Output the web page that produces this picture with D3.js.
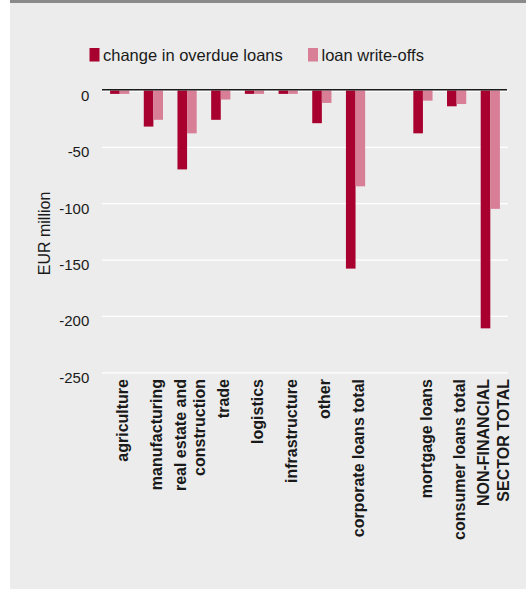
<!DOCTYPE html>
<html>
<head>
<meta charset="utf-8">
<script src="https://cdn.jsdelivr.net/npm/d3@7"></script>
<style>
  body { margin: 0; background: #fff; }
  svg { display: block; font-family: "Liberation Sans", Arial, sans-serif; }
</style>
</head>
<body>
<script>
// categories, "gap" is the empty slot between corporate and household loans
var categories = ["agriculture", "manufacturing", "real estate and\nconstruction", "trade", "logistics",
  "infrastructure", "other", "corporate loans total", "gap",
  "mortgage loans", "consumer loans total", "NON-FINANCIAL\nSECTOR TOTAL"];
var overdue   = [-3, -32, -70, -26, -3, -3, -29, -158, null, -38, -14, -211];
var writeOffs = [-3, -26, -38, -8, -3, -3, -11, -85, null, -9, -12, -105];
var seriesNames = ["change in overdue loans", "loan write-offs"];
var yTicks = [0, -50, -100, -150, -200, -250];

var colors = ["#a8002f", "#d87e96"];

const W = 526, H = 589;
const svg = d3.select("body").append("svg").attr("width", W).attr("height", H);

// panel
svg.append("rect").attr("x", 10).attr("y", 0).attr("width", W - 10).attr("height", H).attr("fill", "#ebeceb");
svg.append("rect").attr("x", 10).attr("y", 0).attr("width", W - 10).attr("height", 3).attr("fill", "#8a8a8a");

var x = d3.scaleBand()
  .domain(categories)
  .range([102, 508])
  .paddingInner(0.43)
  .paddingOuter(0.24);

var x1 = d3.scaleBand().domain([0, 1]).range([0, x.bandwidth()]);

var y = d3.scaleLinear().domain([-250, 0]).range([372.3, 90.5]);

// gridlines + tick labels
var yAxis = svg.append("g")
  .attr("transform", "translate(102,0)")
  .call(d3.axisLeft(y).tickValues(yTicks).tickSize(-406).tickPadding(12.7).tickFormat(d3.format("d")));
yAxis.select(".domain").remove();
yAxis.selectAll(".tick line").attr("stroke", "#ffffff").attr("stroke-width", 1.3);
yAxis.selectAll(".tick text")
  .attr("font-size", 15)
  .attr("font-family", "\"Liberation Sans\", Arial, sans-serif")
  .attr("fill", "#1a1a1a")
  .attr("dy", "0.66em")
  .text(function(d) { return d == 0 ? "0" : String(d); });

// bars
var rows = categories.map(function(c, i) { return {cat: c, vals: [overdue[i], writeOffs[i]]}; })
  .filter(function(d) { return d.cat != "gap"; });

var groups = svg.selectAll("g.grp")
  .data(rows)
  .enter().append("g")
  .attr("class", "grp")
  .attr("transform", function(d) { return "translate(" + x(d.cat) + ",0)"; });

groups.selectAll("rect")
  .data(function(d) { return d.vals; })
  .enter().append("rect")
  .attr("x", function(d, i) { return x1(i); })
  .attr("width", x1.bandwidth())
  .attr("y", y(0))
  .attr("height", function(d) { return y(d) - y(0); })
  .attr("fill", function(d, i) { return colors[i]; });

// zero line
svg.append("line")
  .attr("x1", 102).attr("x2", 507)
  .attr("y1", y(0) - 0.8).attr("y2", y(0) - 0.8)
  .attr("stroke", "#1a1a1a").attr("stroke-width", 1.5);

// category labels
var labels = svg.selectAll("text.cat")
  .data(rows)
  .enter().append("text")
  .attr("class", "cat")
  .attr("transform", function(d) { return "translate(" + (x(d.cat) + x.bandwidth() / 2 + 3) + ",379) rotate(-90)"; })
  .attr("text-anchor", "end")
  .attr("font-size", 16)
  .attr("font-weight", "bold")
  .attr("fill", "#1a1a1a");

labels.each(function(d) {
  var lines = d.cat.split("\n");
  var t = d3.select(this);
  lines.forEach(function(l, k) {
    var off = (k - (lines.length - 1) / 2) * 19.5;
    t.append("tspan").attr("x", 0).attr("y", off).attr("dy", "0.35em").text(l);
  });
});

// axis title
svg.append("text")
  .attr("transform", "translate(49.5,233.5) rotate(-90)")
  .attr("text-anchor", "middle")
  .attr("font-size", 16)
  .attr("fill", "#1a1a1a")
  .text("EUR million");

// legend
var legX = [89.5, 308];
var legend = svg.selectAll("g.leg")
  .data(seriesNames)
  .enter().append("g")
  .attr("class", "leg")
  .attr("transform", function(d, i) { return "translate(" + legX[i] + ",48)"; });
legend.append("rect").attr("width", 10).attr("height", 13.5).attr("fill", function(d, i) { return colors[i]; });
legend.append("text")
  .attr("x", 13.5).attr("y", 13)
  .attr("font-size", 16.5)
  .attr("fill", "#1a1a1a")
  .text(function(d) { return d; });
</script>
</body>
</html>
